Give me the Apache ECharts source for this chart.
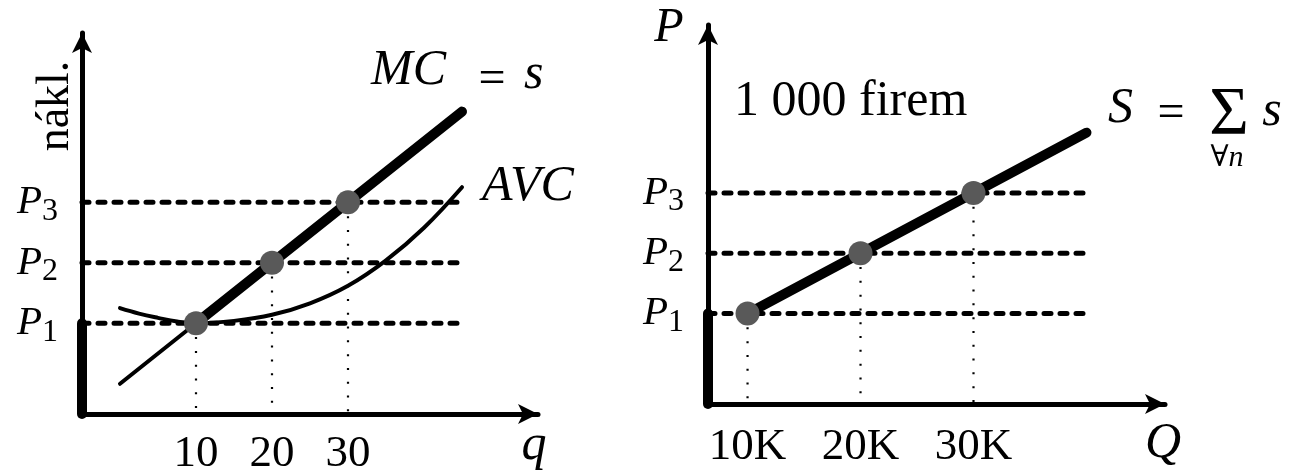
<!DOCTYPE html>
<html>
<head>
<meta charset="utf-8">
<script src="https://cdn.jsdelivr.net/npm/echarts@6/dist/echarts.min.js"></script>
<style>
  html,body{margin:0;padding:0;background:#fff;}
  #main{width:1291px;height:471px;}
</style>
</head>
<body>
<div id="main"></div>
<script>
// --- data ---
// firm (left): quantities q and price levels P1..P3
var qTicks = [10, 20, 30];
var priceLevels = [10, 20, 30];
var priceSubs = ['1', '2', '3'];
// MC = s, thin part below P1 and thick part above
var mcThinQ = [0, 10];
var mcThinP = [0, 10];
var mcThickQ = [10, 45];
var mcThickP = [10, 45];
// AVC curve
var avcQ = [0, 2.5, 5, 7.5, 10, 15, 20, 25, 30, 35, 40, 45];
var avcP = [12.5, 11.6, 10.9, 10.3, 10, 10.4, 11.4, 13.3, 16.2, 20.4, 25.8, 32.5];
var dashEndQ = 45;

// market (right): Q in thousands
var firmCount = '1 000';
var QTicks = [10, 20, 30];
var supplyQ = [10, 40];
var supplyP = [10, 40];
var dashEndMarket = 40;

var FONT = '"Liberation Serif", "DejaVu Serif", serif';
var xMinL = -5, yMin = -5, xMinR = 6.5;

function pairs(xs, ys){
    var out = [];
    for (var i = 0; i < xs.length; i++) out.push([xs[i], ys[i]]);
    return out;
}

var myChart = echarts.init(document.getElementById('main'), null, {renderer: 'canvas'});

var axisLineStyle = {
    show: true,
    onZero: false,
    symbol: ['none', 'arrow'],
    symbolSize: [15, 20],
    lineStyle: {color: '#000', width: 5}
};

var pLabel = {
    fontFamily: FONT,
    margin: 24,
    formatter: function (v) {
        var i = priceLevels.indexOf(v);
        return '{p|P}{s|' + priceSubs[i] + '}';
    },
    rich: {
        p: {fontSize: 41, fontStyle: 'italic', fontFamily: FONT, color: '#000'},
        s: {fontSize: 32, fontFamily: FONT, color: '#000', padding: [18, 0, 0, 0]}
    }
};

var series = [];

// dashed price lines + dotted drops
function addGuides(xi, xStart, xEnd, qs){
    for (var i = 0; i < priceLevels.length; i++){
        series.push({
            type: 'line', xAxisIndex: xi, yAxisIndex: xi, silent: true, symbol: 'none', z: 1,
            data: [[xStart, priceLevels[i]], [xEnd, priceLevels[i]]],
            lineStyle: {color: '#000', width: 5, type: [7, 9], cap: 'round'}
        });
        series.push({
            type: 'line', xAxisIndex: xi, yAxisIndex: xi, silent: true, symbol: 'none', z: 1,
            data: [[qs[i], priceLevels[i]], [qs[i], yMin]],
            lineStyle: {color: '#000', width: 2.2, type: [2, 11.8]}
        });
    }
}
addGuides(0, xMinL, dashEndQ, qTicks);
addGuides(1, xMinR, dashEndMarket, QTicks);

// left panel curves
series.push({
    type: 'line', xAxisIndex: 0, yAxisIndex: 0, symbol: 'none', z: 3, clip: false,
    data: [[xMinL, yMin], [xMinL, priceLevels[0]]],
    lineStyle: {color: '#000', width: 10, cap: 'round'}
});
series.push({
    type: 'line', xAxisIndex: 0, yAxisIndex: 0, symbol: 'none', z: 3,
    data: pairs(mcThinQ, mcThinP),
    lineStyle: {color: '#000', width: 4, cap: 'round'}
});
series.push({
    type: 'line', xAxisIndex: 0, yAxisIndex: 0, symbol: 'none', z: 3,
    data: pairs(mcThickQ, mcThickP),
    lineStyle: {color: '#000', width: 10, cap: 'round'}
});
series.push({
    type: 'line', xAxisIndex: 0, yAxisIndex: 0, symbol: 'none', z: 3, smooth: 0.4,
    data: pairs(avcQ, avcP),
    lineStyle: {color: '#000', width: 4, cap: 'round'}
});
series.push({
    type: 'scatter', xAxisIndex: 0, yAxisIndex: 0, z: 5, symbolSize: 24,
    itemStyle: {color: '#595959', opacity: 1},
    data: pairs(qTicks, priceLevels)
});

// right panel
series.push({
    type: 'line', xAxisIndex: 1, yAxisIndex: 1, symbol: 'none', z: 3, clip: false,
    data: [[xMinR, yMin], [xMinR, priceLevels[0]]],
    lineStyle: {color: '#000', width: 10, cap: 'round'}
});
series.push({
    type: 'line', xAxisIndex: 1, yAxisIndex: 1, symbol: 'none', z: 3,
    data: pairs(supplyQ, supplyP),
    lineStyle: {color: '#000', width: 10, cap: 'round'}
});
series.push({
    type: 'scatter', xAxisIndex: 1, yAxisIndex: 1, z: 5, symbolSize: 24,
    itemStyle: {color: '#595959', opacity: 1},
    data: pairs(QTicks, priceLevels)
});

function txt(x, y, text, size, italic, extra){
    var o = {
        type: 'text', x: x, y: y, z: 10,
        style: {
            text: text, fontSize: size, fontFamily: FONT,
            fontStyle: italic ? 'italic' : 'normal', fill: '#000',
            align: 'left', verticalAlign: 'middle',
            textAlign: 'left', textVerticalAlign: 'middle'
        }
    };
    if (extra) {
        for (var k in extra) {
            if (k === 'rotation') o.rotation = extra[k];
            else { o.style[k] = extra[k]; }
        }
        if (extra.align) o.style.textAlign = extra.align;
    }
    return o;
}

var option = {
    backgroundColor: '#fff',
    animation: false,
    grid: [
        {left: 82, top: 33, width: 456, height: 381, containLabel: false, outerBoundsMode: 'none'},
        {left: 708, top: 25, width: 457, height: 379, containLabel: false, outerBoundsMode: 'none'}
    ],
    xAxis: [
        {
            type: 'value', gridIndex: 0, min: xMinL, max: 55,
            axisLine: axisLineStyle, axisTick: {show: false}, splitLine: {show: false},
            axisLabel: {customValues: qTicks, margin: 18, fontSize: 45, fontFamily: FONT, color: '#000'}
        },
        {
            type: 'value', gridIndex: 1, min: xMinR, max: 46.95,
            axisLine: axisLineStyle, axisTick: {show: false}, splitLine: {show: false},
            axisLabel: {customValues: QTicks, margin: 21, fontSize: 45, fontFamily: FONT, color: '#000',
                formatter: function (v) { return v + 'K'; }}
        }
    ],
    yAxis: [
        {
            type: 'value', gridIndex: 0, min: yMin, max: 58,
            axisLine: axisLineStyle, axisTick: {show: false}, splitLine: {show: false},
            axisLabel: Object.assign({customValues: priceLevels}, pLabel)
        },
        {
            type: 'value', gridIndex: 1, min: yMin, max: 57.85,
            axisLine: axisLineStyle, axisTick: {show: false}, splitLine: {show: false},
            axisLabel: Object.assign({customValues: priceLevels}, pLabel)
        }
    ],
    graphic: [
        txt(56, 106, 'nákl.', 46, false, {rotation: Math.PI / 2, align: 'center'}),
        txt(371, 71, 'MC', 50, true),
        txt(492, 80, '=', 48, false, {align: 'center'}),
        txt(524, 75, 's', 50, true),
        txt(482, 187, 'AVC', 50, true),
        txt(534, 446, 'q', 50, true, {align: 'center'}),
        txt(669, 28, 'P', 48, true, {align: 'center'}),
        txt(734, 102, firmCount + ' firem', 50, false),
        txt(1108, 109, 'S', 50, true),
        txt(1171, 114, '=', 48, false, {align: 'center'}),
        txt(1229, 115, '\u03A3', 68, false, {align: 'center'}),
        txt(1272, 112, 's', 50, true, {align: 'center'}),
        txt(1227, 158, '\u2200n', 30, true, {align: 'center'}),
        txt(1163, 444, 'Q', 50, true, {align: 'center'})
    ],
    series: series
};

myChart.setOption(option);
</script>
</body>
</html>
